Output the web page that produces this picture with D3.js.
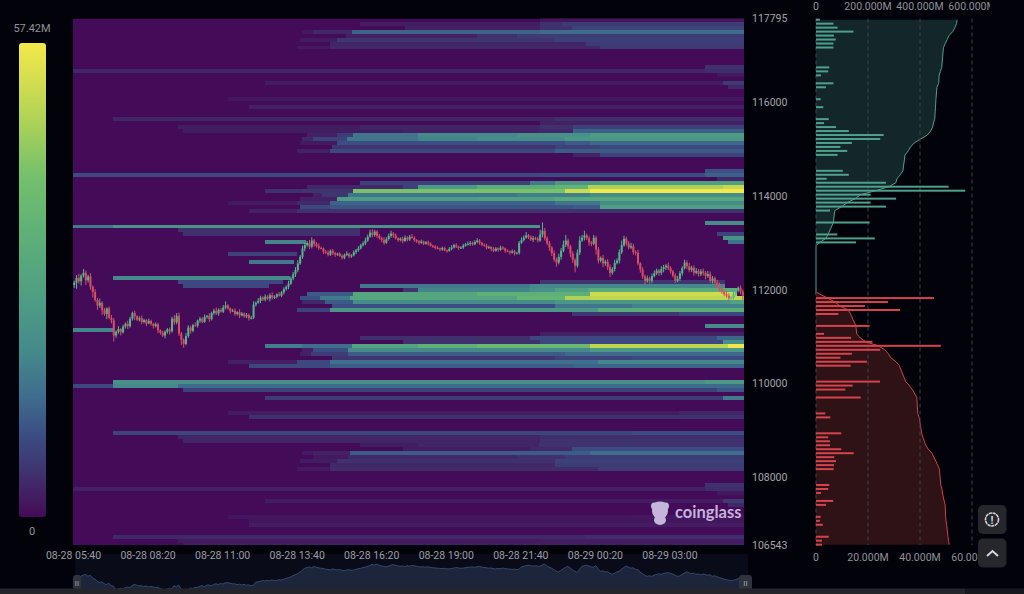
<!DOCTYPE html>
<html><head><meta charset="utf-8">
<script src="https://cdn.jsdelivr.net/npm/d3@7/dist/d3.min.js"></script>
<style>
html,body{margin:0;padding:0;background:#02030a;overflow:hidden}
svg{display:block}
text{font-family:Roboto,"Noto Sans",sans-serif}
</style></head><body><svg id="c" width="1024" height="594"></svg>
<script>
const priceTop=117795, priceBottom=106543, binSize=85, firstBinPrice=117770, maxLiquidity=57.42, windowMinutes=1440;
const priceTicks=[117795,116000,114000,112000,110000,108000,106543];
const timeTickMinutes=[0,160,320,480,640,800,960,1120,1280];
const timeLabels=["08-28 05:40","08-28 08:20","08-28 11:00","08-28 13:40","08-28 16:20","08-28 19:00","08-28 21:40","08-29 00:20","08-29 03:00"];
const cumTicks=[0,200,400,600];
const barTicks=[0,20,40,60];
const colorStops=[0,.05,.1,.17,.25,.35,.47,.6,.72,.85,1];
const colorValues=["#440b58","#432063","#3f3570","#3b4c82","#3e6c8d","#458a8b","#4f9f83","#5fb077","#74c06c","#b5d454","#f4e84a"];

// each band: [price bin number, [minute the level starts, liquidity in millions]...]
const liquidityBands=[
[0,[1002,1.5]],[1,[616,2.5],[1002,5],[1050,6.7]],[2,[713,3],[1002,5],[1070,8.3]],
[3,[491,2],[515,4],[599,13],[1002,14.4]],[4,[585,3],[867,5],[953,6.9]],
[5,[487,2.5],[567,6],[1034,7.6]],[6,[552,3.5],[1100,6.7]],[7,[481,2],[552,4],[1131,6.7]],
[12,[1356,5.1]],[13,[0,3.5],[1356,4.7]],[14,[1382,1.9]],[16,[412,2.5],[1395,6.7]],[17,[1406,3.8]],
[20,[333,1.8]],[22,[378,2.8]],[25,[86,3.8],[1034,4.9]],[26,[1002,3.1]],
[27,[225,2.5],[616,3.5],[1002,5],[1073,7.7]],[28,[236,2.5],[708,3],[1000,4],[1073,12.6]],
[29,[502,3],[567,7],[601,16],[740,20],[953,22],[1109,26]],
[30,[491,4],[515,8],[588,16],[740,19],[867,21],[1056,24.7]],
[31,[487,2],[567,10],[1056,12],[1109,13.8]],[32,[556,6],[1034,8],[1131,9.4]],
[33,[481,3],[552,9],[1034,12]],[34,[1073,3.5],[1131,8.3]],
[38,[1356,10.3]],[39,[0,9],[1002,10],[1356,12.6]],[40,[1382,4.1]],
[41,[616,8],[980,17],[1034,24],[1131,26.9]],
[42,[502,4],[708,8],[740,25],[867,33],[1034,36],[1105,48],[1395,51]],
[43,[412,5],[491,6],[601,42],[1056,52],[1109,57.4]],
[44,[515,3],[535,6],[590,16],[953,18],[1109,21]],
[45,[487,3],[567,26],[867,28],[1034,30.8]],
[46,[333,2],[481,4],[552,13],[1034,16],[1131,21]],
[47,[487,9],[552,11],[1073,12],[1131,26.9]],[48,[378,3],[481,5.4]],
[51,[1356,20.6]],[52,[0,17],[86,23],[1002,0]],[53,[225,5],[616,0]],
[54,[236,5],[616,0],[1382,8.2]],[55,[1395,22.6]],[56,[412,19],[499,0],[1406,15.4]],
[59,[333,8],[481,0]],[61,[378,17],[475,0]],[65,[86,20],[466,0]],
[66,[225,9],[450,0],[1002,6],[1400,0]],
[67,[236,9],[420,0],[616,17],[980,20],[1400,0]],
[68,[708,6],[740,19],[980,22],[1034,27],[1105,32],[1425,0]],
[69,[502,12],[601,30],[867,34],[1109,52],[1425,0]],
[70,[487,10],[530,17],[595,30],[953,36],[1056,48],[1109,50]],
[71,[491,4],[540,12],[601,21],[1034,24],[1409,27.7]],
[72,[556,10],[1034,16],[1200,18.8]],[73,[481,8],[552,24],[1127,32.3]],[74,[1071,6],[1300,8.6]],
[77,[1356,20.6]],[78,[0,19],[86,0]],[79,[1002,3.1]],[80,[616,5],[980,9],[1382,13.5]],
[81,[708,5],[1002,9],[1395,21.7]],
[82,[412,18],[491,15],[599,29],[740,34],[867,38],[1109,50],[1406,57]],
[83,[491,3],[515,10],[590,20],[1109,24.7]],[84,[487,3],[510,7],[590,12],[1056,13.8]],
[85,[556,6],[1034,8],[1200,9.4]],[86,[333,3],[481,9],[552,15],[1127,19.6]],[87,[378,9],[552,12],[1073,13.3]],
[91,[86,22],[1356,24.6]],[92,[0,9],[86,20],[225,14.1]],[93,[236,8],[1382,11.3]],
[95,[412,7],[1395,17.2]],[99,[333,2.5],[1300,3.6]],[100,[378,5],[1300,5.5]],
[104,[86,8.5],[1200,9.7]],[105,[225,3.5],[1002,4.7]],[106,[236,3.5],[1002,5.4]],
[107,[616,2.5],[740,3.5],[1000,5.4]],[108,[708,2.5],[980,4],[1071,9.7]],
[109,[491,2],[515,3],[595,12],[1109,14.5]],[110,[515,2],[590,4],[953,5],[1056,7]],
[111,[487,2.5],[567,5],[1034,7.7]],[112,[552,4],[1034,6.9]],[113,[481,2],[552,4.5],[1127,6.8]],
[117,[1356,5.1]],[118,[0,3],[1356,4.7]],[119,[1382,1.9]],[121,[412,2.5],[1395,6.6]],[122,[1406,3.8]],
[125,[333,1.5],[1200,1.8]],[126,[378,1.5]],[127,[378,2.6]],[130,[86,4],[1100,4.9]],
[131,[225,2],[1002,2.3]],[132,[236,2.3]]
];

const askProfileRows=[0,1,2,3,4,5,6,7,12,13,14,16,17,20,22,25,26,27,28,29,30,31,32,33,34,38,39,40,41,42,43,44,45,46,47,48,51,54,55,56];
const askProfileValues=[1.5,6.7,8.3,14.4,6.9,7.6,6.7,6.7,5.1,4.7,1.9,6.7,3.8,1.8,2.8,4.9,3.1,7.7,12.6,26,24.7,13.8,9.4,12,8.3,10.3,12.6,4.1,26.9,51,57.4,21,30.8,21,26.9,5.4,20.6,8.2,22.6,15.4];
const bidProfileRows=[70,71,72,73,74,77,79,80,81,82,83,84,85,86,87,91,92,93,95,99,100,104,105,106,107,108,109,110,111,112,113,117,118,119,121,122,125,126,127,130,131,132];
const bidProfileValues=[45.4,27.7,18.8,32.3,8.6,20.6,3.1,13.5,21.7,48,24.7,13.8,9.4,19.6,13.3,24.6,14.1,11.3,17.2,3.6,5.5,9.7,4.7,5.4,5.4,9.7,14.5,7,7.7,6.9,6.8,5.1,4.7,1.9,6.6,3.8,1.8,1.5,2.6,4.9,2.3,2.3];

const candleCloses=[
112150,112250,112180,112300,112360,112200,112280,112060,111950,111780,
111660,111720,111560,111480,111600,111400,111340,111020,111100,111160,
111090,111210,111270,111220,111380,111500,111430,111360,111390,111310,
111350,111280,111330,111270,111220,111260,111130,111080,111020,111100,
111150,111110,111380,111300,111440,111060,110930,110840,111010,111190,
111120,111240,111230,111340,111380,111310,111420,111440,111370,111500,
111550,111490,111570,111530,111620,111660,111600,111540,111550,111480,
111520,111450,111490,111430,111460,111390,111400,111680,111720,111760,
111830,111790,111850,111810,111880,111830,111850,111900,111870,111940,
112010,112060,112130,112240,112330,112420,112560,112700,112880,112950,
113000,112920,113050,112980,112930,112890,112880,112810,112790,112750,
112830,112780,112750,112770,112720,112680,112740,112770,112710,112730,
112800,112840,112880,112950,112990,113050,113130,113220,113170,113240,
113150,113100,113060,113000,113080,113150,113200,113160,113100,113060,
113090,113040,113110,113070,113130,113110,113060,113030,113000,113030,
112980,113010,112980,112940,112920,112890,112880,112860,112890,112840,
112830,112870,112900,112950,112920,112890,112900,112940,112970,112980,
113000,112970,113020,113050,113000,112960,112940,112900,112910,112870,
112830,112880,112850,112900,112880,112830,112820,112790,112820,112780,
112790,113000,113060,113110,113160,113120,113070,113100,113090,113050,
113180,113260,113100,112990,112900,112780,112650,112580,112700,112830,
112960,113050,112930,112770,112640,112510,112790,113050,113110,113160,
113100,113010,112980,113110,112860,112620,112680,112560,112600,112480,
112360,112440,112570,112620,112800,112950,113090,112990,112900,112930,
112800,112790,112560,112430,112280,112190,112240,112190,112290,112350,
112410,112360,112440,112480,112510,112460,112390,112300,112190,112230,
112350,112460,112580,112500,112420,112470,112360,112400,112330,112390,
112360,112290,112330,112190,112240,112150,112100,112020,111960,111900,
111870,111820,111830,111920,111980,112040,111960,111870];
const candleWickUp=[
40,60,90,30,80,50,40,70,30,60,40,90,30,50,20,40,60,50,30,60,
20,40,30,70,40,30,50,20,40,60,30,20,50,30,20,40,30,20,40,30,
30,40,40,80,60,70,40,30,60,50,40,30,60,20,40,30,50,20,60,30,
40,70,30,40,50,90,30,20,40,50,20,60,30,20,40,30,40,70,30,60,
40,30,50,30,40,60,30,20,50,30,40,30,60,40,50,60,70,40,60,50,
40,60,70,30,40,60,30,20,40,50,30,40,30,20,30,40,30,50,20,30,
40,30,50,30,40,60,50,60,70,40,30,40,30,60,40,50,60,30,40,20,
30,40,50,30,40,60,30,20,30,40,20,30,40,30,20,30,40,20,30,30,
20,40,50,30,40,20,30,40,30,50,40,30,40,50,30,20,30,40,30,20,
40,30,20,40,30,20,30,20,40,30,20,40,60,50,70,30,40,50,30,40,
100,180,60,40,50,30,60,40,70,60,90,120,40,30,50,30,70,90,60,100,
40,50,30,60,40,50,30,60,40,50,60,40,70,50,60,100,60,40,50,70,
50,40,60,30,50,40,60,40,50,60,40,30,60,50,40,70,40,30,50,60,
50,40,60,50,70,40,50,60,40,50,60,40,70,60,50,40,60,50,30,40,
60,50,40,30,40,30,50,40];
const candleWickDown=[
60,130,50,90,40,100,50,60,120,40,90,50,100,40,110,30,60,130,50,40,
70,30,40,60,30,40,80,30,40,50,30,60,20,40,50,30,60,40,30,60,
40,70,30,50,40,50,110,80,30,40,60,30,20,40,50,30,20,40,60,30,
40,30,50,20,30,40,30,50,20,40,30,60,20,30,40,50,30,30,40,20,
50,30,40,30,60,40,30,40,20,30,40,30,50,30,40,60,50,30,40,60,
30,50,40,60,30,40,20,50,30,40,30,40,50,30,20,40,30,20,40,30,
20,40,30,20,30,40,30,20,50,40,40,30,50,40,20,30,40,50,30,40,
30,50,20,40,30,20,40,30,40,20,30,20,40,20,30,30,20,40,30,20,
40,20,30,20,30,40,20,30,20,30,40,30,20,30,40,30,20,40,30,50,
30,20,40,20,30,40,20,40,20,50,30,40,20,30,20,40,30,50,30,40,
30,60,50,40,70,60,50,90,40,60,30,50,60,80,70,140,40,50,30,60,
40,70,50,30,110,60,40,80,50,60,90,40,50,30,60,40,30,50,40,30,
50,60,40,70,50,80,40,60,50,30,40,60,50,70,60,40,50,40,50,30,
40,50,30,60,50,40,60,30,50,40,60,70,40,50,60,40,70,60,50,40,
40,60,30,40,50,40,60,90];

const svg=d3.select("#c");
const plot={l:73,r:744,t:18.5,b:545};
const x=d3.scaleLinear().domain([0,windowMinutes]).range([plot.l,plot.r]);
const y=d3.scaleLinear().domain([priceBottom,priceTop]).range([plot.b,plot.t]);
const colour=d3.scaleLinear().domain(colorStops.map(t=>t*maxLiquidity)).range(colorValues).clamp(true);
const textCol="#8f9197";
const binPrice=k=>firstBinPrice-binSize*k;

svg.append("rect").attr("width",1024).attr("height",594).attr("fill","#02030a");

// colour bar
const defs=svg.append("defs");
const grad=defs.append("linearGradient").attr("id","bar").attr("x1",0).attr("y1",1).attr("x2",0).attr("y2",0);
colorStops.forEach((t,i)=>grad.append("stop").attr("offset",t).attr("stop-color",colorValues[i]));
const barScale=d3.scaleLinear().domain([0,maxLiquidity]).range([517,43]);
svg.append("rect").attr("x",19).attr("width",27).attr("y",barScale(maxLiquidity)).attr("height",barScale(0)-barScale(maxLiquidity)).attr("rx",3).attr("fill","url(#bar)");
svg.append("text").attr("x",32).attr("y",32).attr("text-anchor","middle").attr("fill",textCol).attr("font-size",11).text("57.42M");
svg.append("text").attr("x",32).attr("y",535).attr("text-anchor","middle").attr("fill",textCol).attr("font-size",11).text("0");

// heat map
defs.append("clipPath").attr("id","plotClip").append("rect").attr("x",plot.l).attr("y",plot.t).attr("width",plot.r-plot.l).attr("height",plot.b-plot.t);
const heat=svg.append("g").attr("clip-path","url(#plotClip)");
heat.append("rect").attr("x",plot.l).attr("y",plot.t).attr("width",plot.r-plot.l).attr("height",plot.b-plot.t).attr("fill",colorValues[0]);
const cells=[];
liquidityBands.forEach(([k,...steps])=>steps.forEach((s,i)=>{
  const end=i+1<steps.length?steps[i+1][0]:windowMinutes;
  if(s[1]>0)cells.push({k,start:s[0],end,v:s[1]});
}));
heat.selectAll("rect.cell").data(cells).join("rect").attr("class","cell")
 .attr("x",d=>x(d.start)).attr("width",d=>x(d.end)-x(d.start))
 .attr("y",d=>y(binPrice(d.k)+binSize/2)).attr("height",y(0)-y(binSize))
 .attr("fill",d=>colour(d.v)).attr("shape-rendering","crispEdges");

// candles
const step=windowMinutes/candleCloses.length;
const candles=candleCloses.map((c,i)=>{
  const o=i?candleCloses[i-1]:112100;
  return {i,o,c,h:Math.max(o,c)+candleWickUp[i],l:Math.min(o,c)-candleWickDown[i]};
});
const candleG=heat.append("g");
const upCol="#4fb98a",downCol="#d94f62";
candleG.selectAll("line").data(candles).join("line")
 .attr("x1",d=>x((d.i+.5)*step)).attr("x2",d=>x((d.i+.5)*step))
 .attr("y1",d=>y(d.h)).attr("y2",d=>y(d.l))
 .attr("stroke",d=>d.c>=d.o?upCol:downCol).attr("stroke-width",1);
candleG.selectAll("rect").data(candles).join("rect")
 .attr("x",d=>x((d.i+.5)*step)-1).attr("width",2)
 .attr("y",d=>y(Math.max(d.o,d.c))).attr("height",d=>Math.max(1,Math.abs(y(d.o)-y(d.c))))
 .attr("fill",d=>d.c>=d.o?upCol:downCol);

// axes
const yAxis=svg.append("g").attr("transform",`translate(${plot.r},0)`)
 .call(d3.axisRight(y).tickValues(priceTicks).tickSize(0).tickPadding(8).tickFormat(d3.format("d")));
yAxis.select(".domain").remove();
yAxis.selectAll("text").attr("fill","#a2a4a9").attr("font-size",10.5).style("font-family","Roboto");

// minimap
const mini=d3.scaleLinear().domain([0,windowMinutes]).range([75,746]);
const miniY=d3.scaleLinear().domain(d3.extent(candleCloses)).range([592,564]);
svg.append("rect").attr("x",75).attr("y",554).attr("width",673).attr("height",35).attr("fill","#090c18");
svg.append("path").datum(candles).attr("fill","#1c2539").attr("stroke","#34496f").attr("stroke-width",1)
 .attr("d",d3.area().x(d=>mini((d.i+.5)*step)).y0(594).y1(d=>miniY(d.c)));

const xAxis=svg.append("g").attr("transform",`translate(0,${plot.b})`)
 .call(d3.axisBottom(x).tickValues(timeTickMinutes).tickSize(0).tickPadding(7).tickFormat((d,i)=>timeLabels[i]));
xAxis.select(".domain").remove();
xAxis.selectAll("text").attr("fill","#9b9da2").attr("font-size",10.5).style("font-family","Roboto");

[[73,81],[739,752]].forEach(([a,b])=>{
  svg.append("rect").attr("x",a).attr("y",575).attr("width",b-a).attr("height",15).attr("rx",3).attr("fill","#2f333d");
  svg.append("text").attr("x",(a+b)/2).attr("y",585.5).attr("text-anchor","middle").attr("fill","#a7a9ae").attr("font-size",8).text("II");
});
svg.append("rect").attr("x",0).attr("y",588.5).attr("width",965).attr("height",6).attr("fill","#25262b");
svg.append("rect").attr("x",965).attr("y",588.5).attr("width",59).attr("height",6).attr("fill","#17181d");

// watermark
const wm=svg.append("g").attr("fill","#c3b6da");
[[660,511,8,8],[654,506,3,3.5],[666,506,3,3.5],[660,505,7,3.5],[660,520,6,5]].forEach(([cx,cy,rx,ry])=>
  wm.append("ellipse").attr("cx",cx).attr("cy",cy).attr("rx",rx).attr("ry",ry));
wm.append("text").attr("x",675).attr("y",518).attr("font-size",16.5).attr("font-weight",700).style("font-family","Lato").text("coinglass");

// order-book profile
const px=d3.scaleLinear().domain([0,60]).range([816,972]);
const cum=d3.scaleLinear().domain([0,600]).range([816,972]);
const prof=svg.append("g");
defs.append("clipPath").attr("id","topClip").append("rect").attr("x",800).attr("y",0).attr("width",190).attr("height",14);

function profile(rows,vals,reverse,line,fill,bar){
  const order=reverse?d3.range(rows.length).reverse():d3.range(rows.length);
  const sums=d3.cumsum(order.map(i=>vals[i]));
  const pts=order.map((r,j)=>({k:rows[r],s:sums[j]})).sort((a,b)=>a.k-b.k);
  const area=d3.area().x0(816).x1(d=>cum(d.s)).y(d=>y(binPrice(d.k)));
  return {pts,area,line,fill,bar,rows,vals};
}
const ask=profile(askProfileRows,askProfileValues,true,"#4f9e8f","#13272a","#4f9f8b");
const bid=profile(bidProfileRows,bidProfileValues,false,"#c8434d","#2e1215","#d5444e");
ask.pts=ask.pts.concat([{k:56.8,s:0},{k:69,s:0}]);
bid.pts=[{k:68.5,s:0}].concat(bid.pts);
[ask,bid].forEach(p=>{
  prof.append("path").datum(p.pts).attr("fill",p.fill).attr("d",p.area);
  prof.append("path").datum(p.pts).attr("fill","none").attr("stroke",p.line).attr("stroke-width",1)
   .attr("d",d3.line().x(d=>cum(d.s)).y(d=>y(binPrice(d.k))));
});
prof.append("g").selectAll("line").data(barTicks).join("line")
 .attr("x1",d=>px(d)).attr("x2",d=>px(d)).attr("y1",plot.t).attr("y2",plot.b)
 .attr("stroke","#3f4347").attr("stroke-dasharray","4 3").attr("stroke-width",1);
[ask,bid].forEach(p=>{
  prof.append("g").selectAll("rect").data(p.rows).join("rect")
   .attr("x",816).attr("y",k=>y(binPrice(k))-1).attr("height",2)
   .attr("width",(k,i)=>px(p.vals[i])-816).attr("fill",p.bar);
});
const mfmt=d=>d===0?"0":d3.format(".3f")(d)+"M";
svg.append("g").attr("clip-path","url(#topClip)").selectAll("text").data(cumTicks).join("text")
 .attr("x",d=>cum(d)).attr("y",9.5).attr("text-anchor","middle").attr("fill",textCol).attr("font-size",10.5).text(mfmt);
svg.append("g").selectAll("text").data(barTicks).join("text")
 .attr("x",d=>px(d)).attr("y",561).attr("text-anchor","middle").attr("fill",textCol).attr("font-size",10.5).text(mfmt);

// buttons
[505,538.5].forEach(b=>svg.append("rect").attr("x",978).attr("y",b).attr("width",28.5).attr("height",29).attr("rx",5).attr("fill","#25272d"));
svg.append("circle").attr("cx",992).attr("cy",519.5).attr("r",6.5).attr("fill","none").attr("stroke","#d5d6d9").attr("stroke-width",1.6).attr("stroke-dasharray","3.2 .6");
svg.append("text").attr("x",992).attr("y",523.5).attr("text-anchor","middle").attr("fill","#d5d6d9").attr("font-size",11).attr("font-weight",700).text("!");
svg.append("path").attr("d","M987 556 L992.5 551 L998 556").attr("fill","none").attr("stroke","#d5d6d9").attr("stroke-width",2);
</script></body></html>
